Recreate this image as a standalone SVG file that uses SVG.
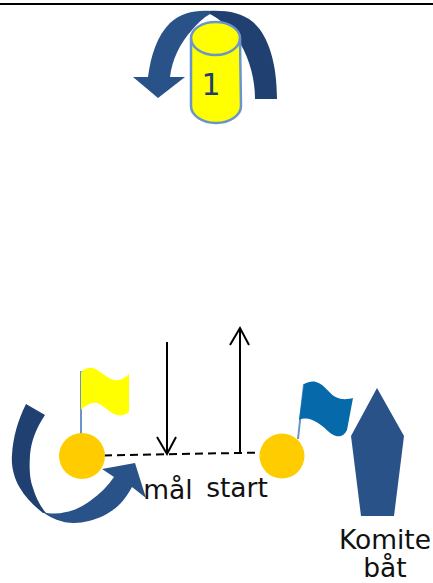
<svg xmlns="http://www.w3.org/2000/svg" width="433" height="583" viewBox="0 0 433 583">
<defs><style>
text{font-family:"DejaVu Sans",Verdana,sans-serif;fill:#111;text-anchor:middle}
.lbl{font-size:26.5px}
.ln{stroke:#000;stroke-width:2;fill:none}
.buoy{fill:#ffcc00}
.dark{fill:#1f4070}
.mid{fill:#285288}
.pole{stroke:#6a95cc;stroke-width:2;fill:none}
</style></defs>
<rect width="433" height="583" fill="#fff"/>
<rect x="0" y="3" width="433" height="2" fill="#000"/>
<g id="round-top">
<path class="dark" d="M208 11C225 10 241 12 253 22C268 35 277 62 277 99L255 99C255 80 250 60 240 43C232 30 222 20 208 13Z"/>
<path class="mid" d="M210 11C195 10 181 13 170 23C157 36 151 55 148 77L133 77L158 98L185 77L170 77C172 60 180 43 192 30C197 24 203 18 210 14Z"/>
</g>
<g id="mark-1">
<path d="M191 38A24.500 16 0 0 1 240 38L241 106A25 17 0 0 1 191 106Z" fill="#ffff00" stroke="#6a95cc" stroke-width="2.500"/>
<path d="M191 38A24.500 17 0 0 0 240 38" fill="none" stroke="#6a95cc" stroke-width="2.500"/>
<text x="211" y="95" font-size="30" style="fill:#1f3f70">1</text>
</g>
<g id="connectors">
<path d="M104 455.500L262 452.500" stroke="#000" stroke-width="2" stroke-dasharray="8 5" fill="none"/>
<path class="ln" d="M167 342V453M157 437L167 454L176 437"/>
<path class="ln" d="M240 453V328M230 345L240 328L249 345"/>
</g>
<g id="buoy-mal">
<path class="pole" d="M81 371V434"/>
<path d="M81 372C85 368 89 367 93 368C100 370 106 378 114 380C120 381 125 378 129 374L129 412C125 415 121 416 117 415C109 413 104 405 97 403C91 402 85 406 81 410Z" fill="#ffff00"/>
<circle class="buoy" cx="82" cy="456" r="23"/>
</g>
<g id="round-mal">
<path class="dark" d="M26 404L45 415C36 428 31 442 30 455C29 470 30 480 33 488C36 498 40 506 46 513L43 513C33 505 25 497 20 488C14 478 11 466 12 455C13 437 18 420 26 404Z"/>
<path class="mid" d="M43 512C50 518 62 523 74 523C84 523 94 520 103 516C115 510 124 502 132 487L146 498L135 463L102 469L114 477C108 486 100 494 90 501C82 507 73 511 66 512C58 514 50 514 43 512Z"/>
</g>
<g id="buoy-start">
<path class="pole" d="M298 439L304 384"/>
<path d="M304 384C308 382 312 381 316 382C325 384 330 396 338 398C343 400 349 399 353 398L347 430C344 436 340 437 336 436C329 434 325 427 318 423C312 419 305 417 299 420Z" fill="#0569aa"/>
<circle class="buoy" cx="282" cy="456" r="22.500"/>
</g>
<g id="komite-boat">
<path class="mid" d="M377 388L404 436L394 516H361L351 436Z"/>
<text class="lbl" x="385" y="549">Komite</text>
<text class="lbl" x="385" y="577">båt</text>
</g>
<text class="lbl" x="168" y="499">mål</text>
<text class="lbl" x="237" y="497">start</text>
</svg>
